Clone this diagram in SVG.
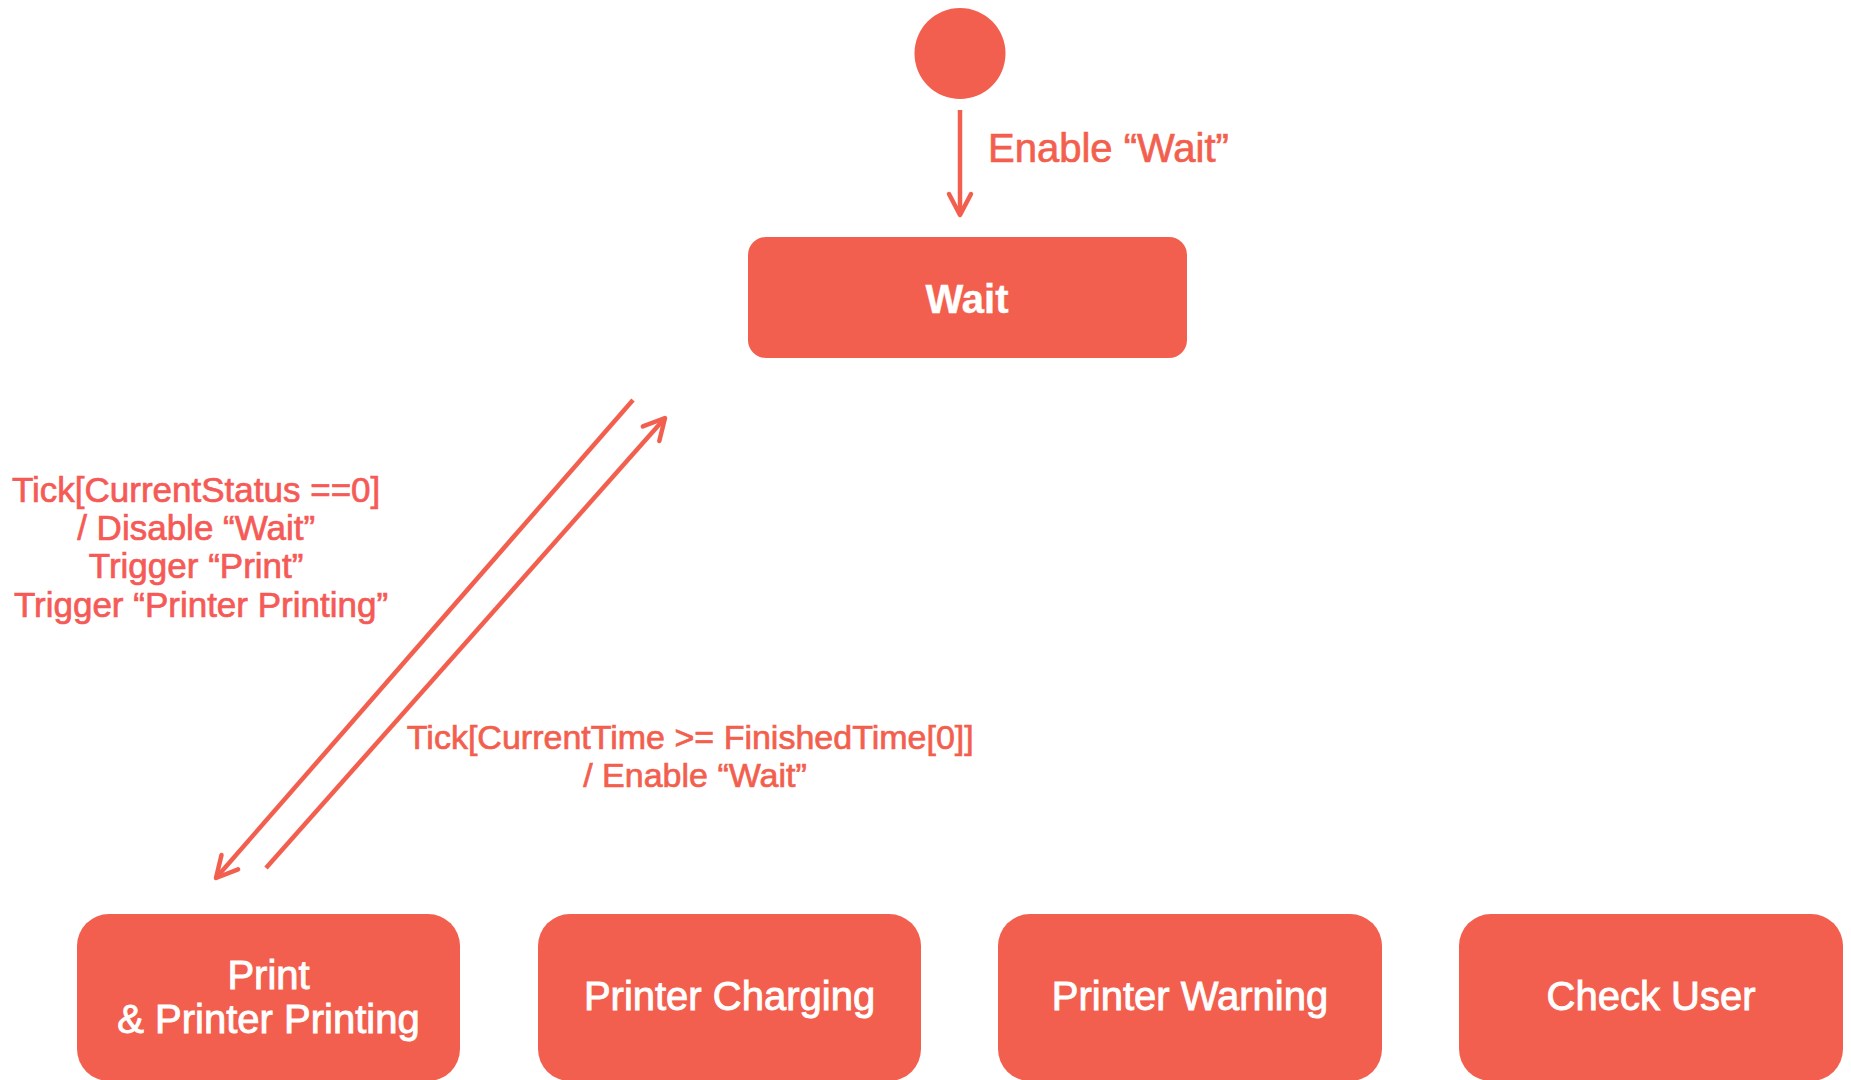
<svg xmlns="http://www.w3.org/2000/svg" width="1851" height="1080" viewBox="0 0 1851 1080">
  <style>
    .node { fill: #F35F4E; }
    .ntext { fill: #FFFFFF; stroke: #FFFFFF; stroke-width: 0.9; font-family: "Liberation Sans", Arial, sans-serif; font-size: 40px; text-anchor: middle; }
    .conn { stroke: #F35F4E; stroke-width: 4.5; fill: none; }
    .lbl { fill: #F35F4E; stroke: #F35F4E; stroke-width: 0.7; font-family: "Liberation Sans", Arial, sans-serif; }
  </style>
  <defs>
    <marker id="arrow" markerUnits="userSpaceOnUse" markerWidth="34" markerHeight="34" viewBox="-28 -17 34 34" refX="0" refY="0" orient="auto">
      <path d="M-21,-11 L0,0 L-21,11" fill="none" stroke="#F35F4E" stroke-width="4.5" stroke-linecap="round" stroke-linejoin="round"/>
    </marker>
  </defs>
  <rect width="1851" height="1080" fill="#FFFFFF"/>

  <g id="connectors">
    <line class="conn" x1="960" y1="110" x2="960" y2="215" marker-end="url(#arrow)"/>
    <line class="conn" x1="633" y1="400" x2="216" y2="878" marker-end="url(#arrow)"/>
    <line class="conn" x1="266" y1="868" x2="665" y2="418" marker-end="url(#arrow)"/>
    <text class="lbl" x="988" y="162" font-size="40">Enable “Wait”</text>
    <text class="lbl" x="201" text-anchor="middle" font-size="35" style="fill:#F55A56;stroke:#F55A56">
      <tspan x="201" y="502">Tick[CurrentStatus ==0]</tspan>
      <tspan x="201" y="540">/ Disable “Wait”</tspan>
      <tspan x="201" y="578">Trigger “Print”</tspan>
      <tspan x="201" y="617">Trigger “Printer Printing”</tspan>
    </text>
    <text class="lbl" x="695" text-anchor="middle" font-size="34">
      <tspan x="695" y="749">Tick[CurrentTime &gt;= FinishedTime[0]]</tspan>
      <tspan x="695" y="787">/ Enable “Wait”</tspan>
    </text>
  </g>

  <g id="start">
    <circle class="node" cx="960" cy="53.5" r="45.5"/>
  </g>

  <g id="wait">
    <rect class="node" x="748" y="237" width="439" height="121" rx="18"/>
    <text class="ntext" x="967" y="313" font-size="44" font-weight="bold" style="stroke-width:0.4">Wait</text>
  </g>

  <g id="print">
    <rect class="node" x="77" y="914" width="383" height="167" rx="32"/>
    <text class="ntext" x="268.5" y="989">Print</text>
    <text class="ntext" x="268.5" y="1033">&amp; Printer Printing</text>
  </g>

  <g id="printer-charging">
    <rect class="node" x="538" y="914" width="383" height="167" rx="32"/>
    <text class="ntext" x="729.5" y="1010">Printer Charging</text>
  </g>

  <g id="printer-warning">
    <rect class="node" x="998" y="914" width="384" height="167" rx="32"/>
    <text class="ntext" x="1190" y="1010">Printer Warning</text>
  </g>

  <g id="check-user">
    <rect class="node" x="1459" y="914" width="384" height="167" rx="32"/>
    <text class="ntext" x="1651" y="1010">Check User</text>
  </g>
</svg>
